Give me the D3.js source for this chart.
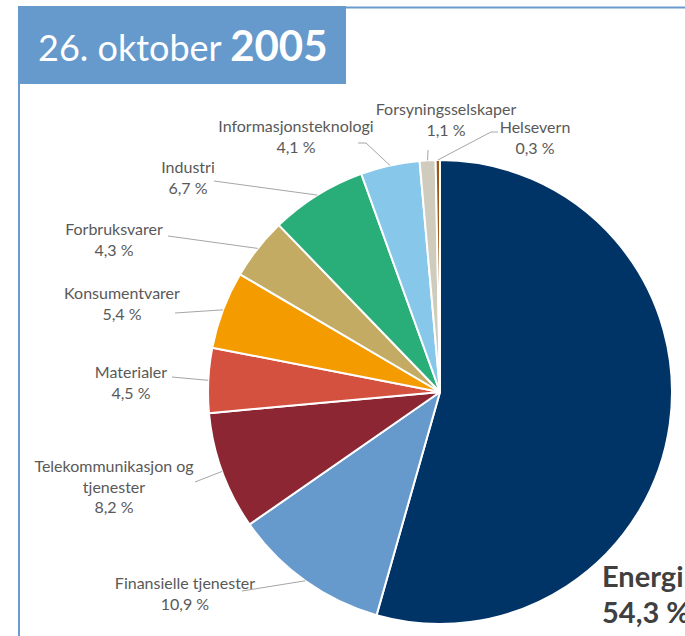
<!DOCTYPE html>
<html>
<head>
<meta charset="utf-8">
<script src="https://cdn.jsdelivr.net/npm/d3@7"></script>
<style>
  html, body { margin: 0; padding: 0; background: #fff; overflow: hidden; }
  svg { display: block; }
</style>
</head>
<body>
<div id="chart"></div>
<script>
// ---- data ----
const categories = ["Energi", "Finansielle tjenester", "Telekommunikasjon og tjenester", "Materialer",
  "Konsumentvarer", "Forbruksvarer", "Industri", "Informasjonsteknologi", "Forsyningsselskaper", "Helsevern"];
const values = [54.3, 10.9, 8.2, 4.5, 5.4, 4.3, 6.7, 4.1, 1.1, 0.3];
const colors = ["#003366", "#6699cc", "#8c2633", "#d45140", "#f49b00", "#c4ab64", "#29ae79", "#87c7ea", "#cfcbbd", "#9c5a1a"];
const titleDate = "26. oktober";
const titleYear = "2005";

// ---- layout (label placement, not data) ----
const W = 685, H = 636;
const cx = 440, cy = 392, R = 232;
const labelLayout = [
  null, // Energi handled separately
  { lines: ["Finansielle tjenester"], x: 185, y: 589, lead: [[242, 591]] },
  { lines: ["Telekommunikasjon og", "tjenester"], x: 114, y: 472, lead: [[195, 482]] },
  { lines: ["Materialer"], x: 131, y: 378, lead: [[172, 377]] },
  { lines: ["Konsumentvarer"], x: 122, y: 299, lead: [[175, 313]] },
  { lines: ["Forbruksvarer"], x: 114, y: 235, lead: [[168, 236]] },
  { lines: ["Industri"], x: 188, y: 173, lead: [[214, 181]] },
  { lines: ["Informasjonsteknologi"], x: 296, y: 132, lead: [[358, 143], [366, 143]] },
  { lines: ["Forsyningsselskaper"], x: 446, y: 115, lead: [[428, 150]] },
  { lines: ["Helsevern"], x: 535, y: 133, lead: [[498, 132], [491, 132]] }
];

const fmt = v => d3.format(".1f")(v).replace(".", ",") + " %";

const svg = d3.select("#chart").append("svg").attr("width", W).attr("height", H);

// frame
const frameColor = "#6a9bd0";
svg.append("line").attr("x1", 340).attr("x2", W).attr("y1", 7.5).attr("y2", 7.5)
  .attr("stroke", frameColor).attr("stroke-width", 2);
svg.append("line").attr("x1", 19).attr("x2", 19).attr("y1", 80).attr("y2", H)
  .attr("stroke", frameColor).attr("stroke-width", 2);
svg.append("rect").attr("x", 18).attr("y", 6).attr("width", 328).attr("height", 78).attr("fill", "#6699cc");
const title = svg.append("text").attr("x", 38).attr("y", 61).attr("fill", "#fff")
  .style("font-family", "Lato, 'Open Sans', sans-serif");
title.append("tspan").style("font-size", "36px").text(titleDate + " ");
title.append("tspan").style("font-size", "42px").style("font-weight", "bold").text(titleYear);

// pie
const pie = d3.pie().sort(null).value(d => d).startAngle(0).endAngle(2 * Math.PI);
const arcs = pie(values);
const arc = d3.arc().innerRadius(0).outerRadius(R);
const g = svg.append("g").attr("transform", `translate(${cx},${cy})`);
g.selectAll("path").data(arcs).join("path")
  .attr("d", arc)
  .attr("fill", (d, i) => colors[i])
  .attr("stroke", "#fff").attr("stroke-width", 2).attr("stroke-linejoin", "round");

// leader lines + labels
const edge = d => {
  const a = (d.startAngle + d.endAngle) / 2;
  return [cx + R * Math.sin(a), cy - R * Math.cos(a)];
};
const lineGen = d3.line();
const labelFont = "Lato, 'Open Sans', sans-serif";
arcs.forEach((d, i) => {
  const L = labelLayout[i];
  if (!L) return;
  const pts = L.lead.concat([edge(d)]);
  svg.append("path").attr("d", lineGen(pts)).attr("fill", "none")
    .attr("stroke", "#a6a6a6").attr("stroke-width", 1);
  const t = svg.append("text").attr("text-anchor", "middle").attr("fill", "#595959")
    .style("font-family", labelFont).style("font-size", "16px");
  const all = L.lines.concat([fmt(values[i])]);
  all.forEach((s, k) => {
    t.append("tspan").attr("x", L.x).attr("y", L.y + k * 20.7).text(s);
  });
});

// Energi label
const e = svg.append("text").attr("fill", "#404040")
  .style("font-family", labelFont).style("font-size", "29px").style("font-weight", "bold");
e.append("tspan").attr("x", 602).attr("y", 587).text(categories[0]);
e.append("tspan").attr("x", 602).attr("y", 623).text(fmt(values[0]));
</script>
</body>
</html>
